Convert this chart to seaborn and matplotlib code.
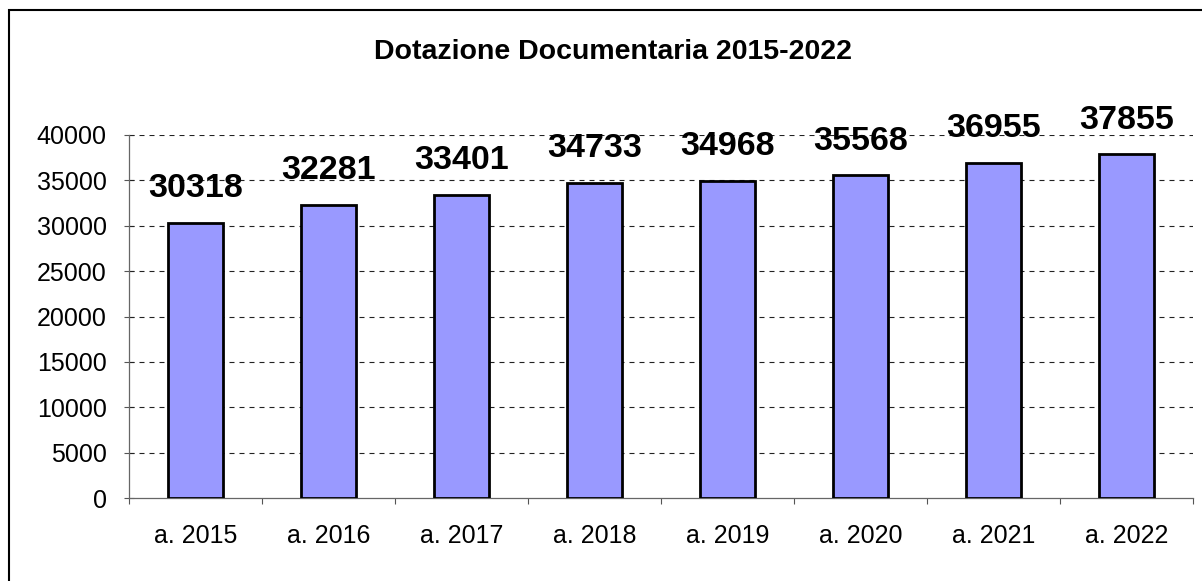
import matplotlib
matplotlib.use("Agg")
import matplotlib.pyplot as plt
import seaborn as sns
import pandas as pd
from matplotlib.patches import Rectangle

categories = ["a. 2015", "a. 2016", "a. 2017", "a. 2018", "a. 2019", "a. 2020", "a. 2021", "a. 2022"]
values = [30318, 32281, 33401, 34733, 34968, 35568, 36955, 37855]
yticks = [0, 5000, 10000, 15000, 20000, 25000, 30000, 35000, 40000]
title = "Dotazione Documentaria 2015-2022"

sns.set_style("white")
plt.rcParams["font.family"] = ["Liberation Sans", "DejaVu Sans"]
plt.rcParams["text.color"] = "black"
plt.rcParams["xtick.color"] = "black"
plt.rcParams["ytick.color"] = "black"
plt.rcParams["xtick.labelcolor"] = "black"
plt.rcParams["ytick.labelcolor"] = "black"

df = pd.DataFrame({"cat": categories, "val": values})

fig = plt.figure(figsize=(12.02, 5.81), dpi=100)
ax = fig.add_axes([129 / 1202, 1 - 498 / 581, (1193 - 129) / 1202, (498 - 135) / 581])

sns.barplot(data=df, x="cat", y="val", ax=ax, color="#9999FF", saturation=1,
            width=0.41, edgecolor="black", linewidth=2.0, zorder=3)

ax.set_ylim(0, 40000)
ax.set_xlim(-0.5, len(categories) - 0.5)
ax.set_yticks(yticks)
ax.set_yticklabels([str(t) for t in yticks])
ax.set_xlabel("")
ax.set_ylabel("")

for y in yticks[1:]:
    ax.axhline(y, color="#222222", linestyle=(0, (4.5, 4.5)), linewidth=0.8, zorder=1)

ax.set_xticks([i - 0.5 for i in range(len(categories) + 1)], minor=False)
ax.set_xticklabels([""] * (len(categories) + 1))
ax.set_xticks(range(len(categories)), minor=True)
ax.set_xticklabels(categories, minor=True)
ax.tick_params(axis="x", which="major", direction="out", length=4.5, width=0.8, color="#555555", bottom=True)
ax.tick_params(axis="x", which="minor", length=0, pad=19, labelsize=18, labelcolor="black")
ax.tick_params(axis="y", direction="inout", length=7, width=0.8, color="#555555", left=True,
               labelsize=18, pad=12.5, labelcolor="black")

for s in ["top", "right"]:
    ax.spines[s].set_visible(False)
for s in ["left", "bottom"]:
    ax.spines[s].set_color("#666666")
    ax.spines[s].set_linewidth(0.9)

for i, v in enumerate(values):
    ax.annotate(str(v), xy=(i, v), xytext=(0, 18.5), textcoords="offset points",
                ha="center", va="baseline", fontsize=24.5, fontweight="bold", color="black", zorder=5)

fig.text(613 / 1202, 1 - 52 / 581, title, ha="center", va="center", fontsize=20.5,
         fontweight="bold", color="black")

fig.patches.append(Rectangle((8.5 / 1202, -0.1), 1.2, 1 - 10 / 581 + 0.1, transform=fig.transFigure,
                             fill=False, edgecolor="black", linewidth=1.5, figure=fig))

fig.savefig("out.png", dpi=100)
